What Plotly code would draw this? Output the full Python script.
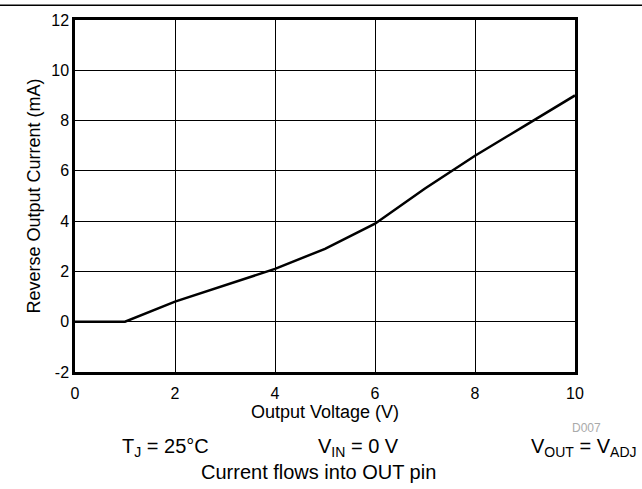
import plotly.graph_objects as go

# values
output_voltage = [0, 1, 2, 3, 4, 5, 6, 7, 8, 9, 10]
reverse_current = [0, 0, 0.8, 1.45, 2.1, 2.9, 3.9, 5.3, 6.6, 7.8, 9.0]

x_ticks = [0, 2, 4, 6, 8, 10]
y_ticks = [-2, 0, 2, 4, 6, 8, 10, 12]
y_tick_text = ['-2', '0', '2', '4', '6', '8', '10', '12']

W, H = 642, 489
ml, mr, mt, mb = 75, 67, 17, 117
pw, ph = W - ml - mr, H - mt - mb

font = "Liberation Sans, Arial, sans-serif"

fig = go.Figure()
fig.add_trace(
    go.Scatter(
        x=output_voltage,
        y=reverse_current,
        mode='lines',
        line=dict(width=2.5, color='black'),
        showlegend=False,
    ))

fig.update_layout(
    width=W, height=H,
    margin=dict(l=ml, r=mr, t=mt, b=mb),
    paper_bgcolor='white',
    plot_bgcolor='white',
    font=dict(family=font, size=16, color='black'),
)

fig.update_xaxes(
    range=[0, 10], tickvals=x_ticks,
    showgrid=True, gridcolor='black', gridwidth=1,
    showline=True, linecolor='black', linewidth=2.5, mirror=True,
    zeroline=False, ticks='', ticklen=0, ticklabelstandoff=5,
    tickfont=dict(size=16),
    title=dict(text='Output Voltage (V)', font=dict(size=18), standoff=0),
)
fig.update_yaxes(
    range=[-2, 12], tickvals=y_ticks, ticktext=y_tick_text,
    showgrid=True, gridcolor='black', gridwidth=1,
    showline=True, linecolor='black', linewidth=2.5, mirror=True,
    zeroline=False, ticks='', ticklen=0,
    tickfont=dict(size=16),
    title=dict(text='Reverse Output Current (mA)', font=dict(size=18), standoff=6),
)

# top rule across the page
fig.add_shape(type='line', xref='paper', yref='paper',
              x0=-ml / pw, x1=1 + mr / pw,
              y0=1 + 15 / ph, y1=1 + 15 / ph,
              line=dict(color='black', width=1.5))

def px_x(px):
    return (px - ml) / pw

def px_y(py):
    return 1 - (py - mt) / ph

notes = [
    ('D007', 586, 428, 12, '#aaaaaa'),
    ('T<sub>J</sub> = 25°C', 165, 448, 20, 'black'),
    ('V<sub>IN</sub> = 0 V', 358, 448, 20, 'black'),
    ('V<sub>OUT</sub> = V<sub>ADJ</sub>', 584, 448, 20, 'black'),
    ('Current flows into OUT pin', 318, 473, 20, 'black'),
]
for text, x, y, size, color in notes:
    fig.add_annotation(text=text, xref='paper', yref='paper',
                       x=px_x(x), y=px_y(y), showarrow=False,
                       xanchor='center', yanchor='middle',
                       font=dict(size=size, color=color, family=font))

fig.write_html("out.html", config={'displayModeBar': False},
               post_script="document.body.style.margin='0';")
